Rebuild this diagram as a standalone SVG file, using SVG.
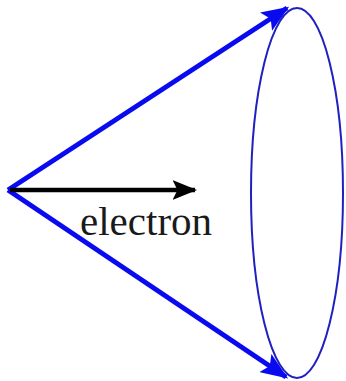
<svg xmlns="http://www.w3.org/2000/svg" width="346" height="381" viewBox="0 0 346 381">
<style>
.blue{stroke:#0a0af0;stroke-width:5;fill:none}
.black{stroke:#000;stroke-width:4.5;fill:none}
.lbl{font-family:"Liberation Serif","Times New Roman",serif;font-size:41px;fill:#1a1a1a}
</style>
<defs>
<marker id="hb" markerWidth="5.5" markerHeight="4.4" refX="5" refY="2.2" orient="auto" markerUnits="strokeWidth"><path d="M0,0 L5.5,2.2 L0,4.4 L1.1,2.2 Z" fill="#0a0af0"/></marker>
<marker id="hk" markerWidth="5.5" markerHeight="4.4" refX="5" refY="2.2" orient="auto" markerUnits="strokeWidth"><path d="M0,0 L5.5,2.2 L0,4.4 L1.1,2.2 Z" fill="#000"/></marker>
</defs>
<rect width="346" height="381" fill="#fff"/>
<g id="cone-ellipse"><ellipse cx="297" cy="193" rx="46" ry="185" fill="none" stroke="#2020c0" stroke-width="2"/></g>
<g id="connectors">
<line class="blue" x1="8" y1="190" x2="287" y2="8" marker-end="url(#hb)"/>
<line class="blue" x1="8" y1="190" x2="286" y2="377" marker-end="url(#hb)"/>
<line class="black" x1="10" y1="190" x2="195" y2="190" marker-end="url(#hk)"/>
</g>
<g id="label"><text class="lbl" x="80" y="235">electron</text></g>
</svg>
